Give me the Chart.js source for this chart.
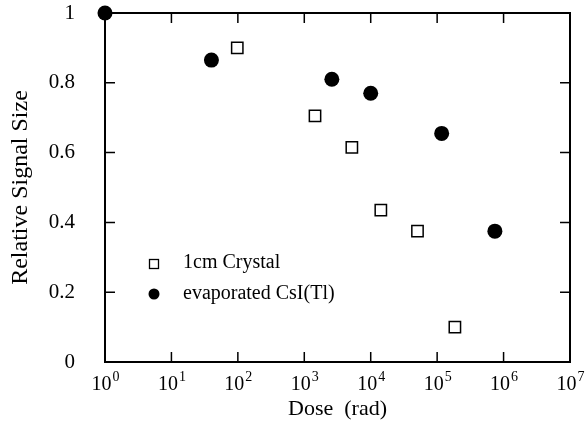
<!DOCTYPE html>
<html>
<head>
<meta charset="utf-8">
<script src="https://cdn.jsdelivr.net/npm/chart.js@4/dist/chart.umd.min.js"></script>
<style>
  html, body { margin: 0; padding: 0; background: #fff; }
  #wrap { width: 586px; height: 427px; }
</style>
</head>
<body>
<div id="wrap"><canvas id="c" width="586" height="427"></canvas></div>
<script>
// values
const crystalDose = [98, 1450, 5200, 14200, 50600, 185000];
const crystalSignal = [0.90, 0.705, 0.615, 0.435, 0.375, 0.10];
const csiDose = [1, 40, 2600, 10000, 117000, 740000];
const csiSignal = [1.0, 0.865, 0.81, 0.77, 0.655, 0.375];
const xTickValues = [1, 10, 100, 1e3, 1e4, 1e5, 1e6, 1e7];
const xTickExponents = ['0', '1', '2', '3', '4', '5', '6', '7'];
const yTickValues = [0, 0.2, 0.4, 0.6, 0.8, 1];

const serif = '"Liberation Serif", "DejaVu Serif", serif';

function toPoints(xs, ys) {
  return xs.map((x, i) => ({ x: x, y: ys[i] }));
}

// frame, inward ticks, x tick labels and the legend box
const framePlugin = {
  id: 'frame',
  beforeDatasetsDraw(chart) {
    const ctx = chart.ctx;
    const a = chart.chartArea;
    const xs = chart.scales.x;
    const ys = chart.scales.y;
    ctx.save();
    ctx.strokeStyle = '#000';
    ctx.lineWidth = 2;
    ctx.strokeRect(a.left, a.top, a.right - a.left, a.bottom - a.top);

    ctx.lineWidth = 1.5;
    ctx.beginPath();
    xTickValues.slice(1, -1).forEach(v => {
      const px = xs.getPixelForValue(v);
      ctx.moveTo(px, a.bottom); ctx.lineTo(px, a.bottom - 10);
      ctx.moveTo(px, a.top); ctx.lineTo(px, a.top + 10);
    });
    yTickValues.slice(1, -1).forEach(v => {
      const py = ys.getPixelForValue(v);
      ctx.moveTo(a.left, py); ctx.lineTo(a.left + 10, py);
      ctx.moveTo(a.right, py); ctx.lineTo(a.right - 10, py);
    });
    ctx.stroke();

    // x tick labels: 10 with a raised exponent
    ctx.fillStyle = '#000';
    ctx.textBaseline = 'alphabetic';
    ctx.textAlign = 'left';
    xTickValues.forEach((v, i) => {
      const px = xs.getPixelForValue(v);
      ctx.font = '20px ' + serif;
      const w1 = ctx.measureText('10').width;
      ctx.font = '14px ' + serif;
      const w2 = ctx.measureText(xTickExponents[i]).width;
      const x0 = px - (w1 + w2) / 2;
      ctx.font = '20px ' + serif;
      ctx.fillText('10', x0, 390);
      ctx.font = '14px ' + serif;
      ctx.fillText(xTickExponents[i], x0 + w1 + 1, 381);
    });

    // legend
    ctx.font = '20px ' + serif;
    ctx.textBaseline = 'middle';
    ctx.lineWidth = 1.3;
    ctx.strokeRect(149.5, 259.5, 9, 9);
    ctx.beginPath();
    ctx.arc(154, 294, 5.5, 0, Math.PI * 2);
    ctx.fill();
    ctx.fillText(chart.data.datasets[0].label, 183, 263);
    ctx.fillText(chart.data.datasets[1].label, 183, 294);
    ctx.restore();
  }
};

new Chart(document.getElementById('c'), {
  type: 'scatter',
  data: {
    datasets: [
      {
        label: '1cm Crystal',
        data: toPoints(crystalDose, crystalSignal),
        pointStyle: 'rect',
        pointRadius: 8,
        borderWidth: 1.5,
        borderColor: '#000',
        backgroundColor: '#fff',
        clip: false
      },
      {
        label: 'evaporated CsI(Tl)',
        data: toPoints(csiDose, csiSignal),
        pointStyle: 'circle',
        pointRadius: 7.5,
        borderWidth: 0,
        borderColor: '#000',
        backgroundColor: '#000',
        clip: false
      }
    ]
  },
  options: {
    responsive: false,
    animation: false,
    devicePixelRatio: 1,
    layout: { padding: { left: 0, right: 16, top: 13, bottom: 0 } },
    plugins: { legend: { display: false }, tooltip: { enabled: false } },
    scales: {
      x: {
        type: 'logarithmic',
        min: 1,
        max: 1e7,
        grid: { display: false },
        border: { display: false },
        ticks: { display: false },
        afterBuildTicks: s => { s.ticks = xTickValues.map(v => ({ value: v })); },
        afterFit: s => { s.height = 65; s.paddingLeft = 0; s.paddingRight = 0; },
        title: {
          display: true,
          text: 'Dose  (rad)',
          color: '#000',
          font: { family: serif, size: 22 },
          padding: { top: 0, bottom: 5 }
        }
      },
      y: {
        min: 0,
        max: 1,
        grid: { display: false },
        border: { display: false },
        afterBuildTicks: s => { s.ticks = yTickValues.map(v => ({ value: v })); },
        afterFit: s => { s.width = 105; s.paddingTop = 0; s.paddingBottom = 0; },
        ticks: {
          color: '#000',
          padding: 22,
          font: { family: serif, size: 21 },
          callback: v => String(Math.round(v * 10) / 10)
        },
        title: {
          display: true,
          text: 'Relative Signal Size',
          color: '#000',
          font: { family: serif, size: 24 },
          padding: { top: 6, bottom: 0 }
        }
      }
    }
  },
  plugins: [framePlugin]
});
</script>
</body>
</html>
